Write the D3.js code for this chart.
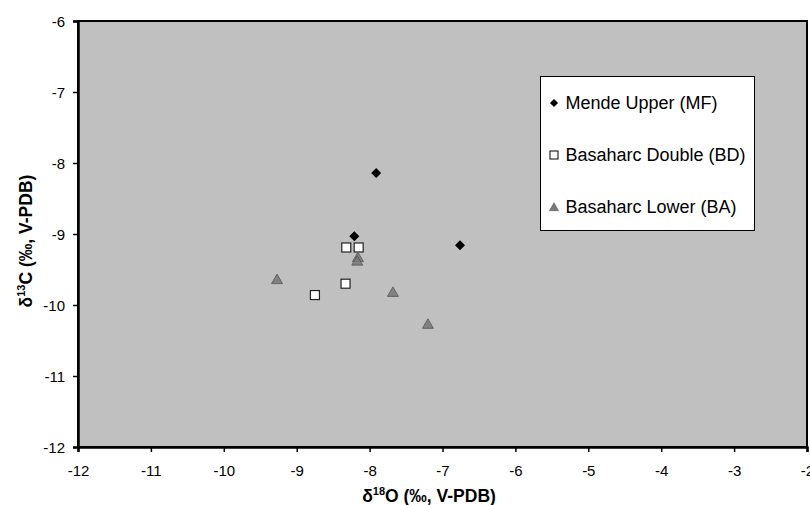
<!DOCTYPE html>
<html><head><meta charset="utf-8">
<script src="https://cdn.jsdelivr.net/npm/d3@7"></script>
<style>body{margin:0;background:#fff}svg{display:block}</style>
</head><body>
<svg id="c" width="810" height="505"></svg>
<script>
const seriesNames = ["Mende Upper (MF)", "Basaharc Double (BD)", "Basaharc Lower (BA)"];
const mfX = [-7.91, -8.21, -6.76];
const mfY = [-8.14, -9.03, -9.16];
const bdX = [-8.32, -8.15, -8.33, -8.75];
const bdY = [-9.19, -9.19, -9.70, -9.86];
const baX = [-8.16, -8.17, -9.27, -7.68, -7.20];
const baY = [-9.33, -9.38, -9.64, -9.82, -10.27];
const xTicks = [-12, -11, -10, -9, -8, -7, -6, -5, -4, -3, -2];
const yTicks = [-6, -7, -8, -9, -10, -11, -12];

const svg = d3.select("#c");
const L = 78, R = 807, T = 21, B = 447;
const x = d3.scaleLinear().domain([-12, -2]).range([L, R]);
const y = d3.scaleLinear().domain([-12, -6]).range([B, T]);

svg.append("rect").attr("x", L).attr("y", T).attr("width", R - L).attr("height", B - T)
  .attr("fill", "#c0c0c0").attr("stroke", "#000").attr("stroke-width", 2);

const font = "Arial, 'Liberation Sans', sans-serif";
const fmt = d => String(d);
const xa = svg.append("g").attr("transform", `translate(0,${B})`)
  .call(d3.axisBottom(x).tickValues(xTicks).tickFormat(fmt).tickSize(5).tickPadding(13.5));
const ya = svg.append("g").attr("transform", `translate(${L},0)`)
  .call(d3.axisLeft(y).tickValues(yTicks).tickFormat(fmt).tickSize(5).tickPadding(8));
[xa, ya].forEach(a => {
  a.select(".domain").attr("stroke", "#000").attr("stroke-width", 2.5);
  a.selectAll(".tick line").attr("stroke", "#000").attr("stroke-width", 1.5);
  a.selectAll(".tick text").attr("fill", "#000").style("font-family", font).style("font-size", "15px");
});
ya.selectAll(".tick text").attr("dy", "0.36em");

// markers
const g = svg.append("g");
g.selectAll(".mf").data(mfX.map((v, i) => [v, mfY[i]])).join("path")
  .attr("d", d3.symbol().type(d3.symbolSquare).size(50)())
  .attr("transform", d => `translate(${x(d[0])},${y(d[1])}) rotate(45)`).attr("fill", "#000");
g.selectAll(".bd").data(bdX.map((v, i) => [v, bdY[i]])).join("rect")
  .attr("x", d => x(d[0]) - 4.5).attr("y", d => y(d[1]) - 4.5).attr("width", 9).attr("height", 9)
  .attr("fill", "#fff").attr("stroke", "#222").attr("stroke-width", 1.2);
g.selectAll(".ba").data(baX.map((v, i) => [v, baY[i]])).join("path")
  .attr("d", d3.symbol().type(d3.symbolTriangle).size(52)()).attr("transform", d => `translate(${x(d[0])},${y(d[1]) + 1})`)
  .attr("fill", "#7a7a7a").attr("stroke", "#555").attr("stroke-width", 0.8).attr("fill-opacity", 0.9);

// legend
const lg = svg.append("g");
lg.append("rect").attr("x", 540.5).attr("y", 76.5).attr("width", 214).attr("height", 154)
  .attr("fill", "#fff").attr("stroke", "#000").attr("stroke-width", 1);
const ly = [103, 155, 207];
seriesNames.forEach((n, i) => {
  const cx = 554, cy = ly[i];
  if (i === 0) lg.append("path").attr("d", d3.symbol().type(d3.symbolSquare).size(34)())
    .attr("transform", `translate(${cx},${cy}) rotate(45)`).attr("fill", "#000");
  if (i === 1) lg.append("rect").attr("x", cx - 4).attr("y", cy - 4).attr("width", 8).attr("height", 8)
    .attr("fill", "#fff").attr("stroke", "#000").attr("stroke-width", 1);
  if (i === 2) lg.append("path").attr("d", d3.symbol().type(d3.symbolTriangle).size(36)())
    .attr("transform", `translate(${cx},${cy + 1})`).attr("fill", "#7a7a7a").attr("stroke", "#555").attr("stroke-width", 0.6);
  lg.append("text").attr("x", 565.5).attr("y", cy).attr("dy", "0.36em")
    .style("font-family", font).style("font-size", "18px").attr("fill", "#000").text(n);
});

// axis titles
const xt = svg.append("text").attr("x", 429).attr("y", 502).attr("text-anchor", "middle")
  .style("font-family", font).style("font-size", "17.5px").style("font-weight", "bold");
xt.append("tspan").text("δ");
xt.append("tspan").attr("dy", -7).style("font-size", "11px").text("18");
xt.append("tspan").attr("dy", 7).text("O (‰, V-PDB)");
const yt = svg.append("text").attr("transform", "translate(32,241) rotate(-90)").attr("text-anchor", "middle")
  .style("font-family", font).style("font-size", "17.5px").style("font-weight", "bold");
yt.append("tspan").text("δ");
yt.append("tspan").attr("dy", -7).style("font-size", "11px").text("13");
yt.append("tspan").attr("dy", 7).text("C (‰, V-PDB)");
</script>
</body></html>
